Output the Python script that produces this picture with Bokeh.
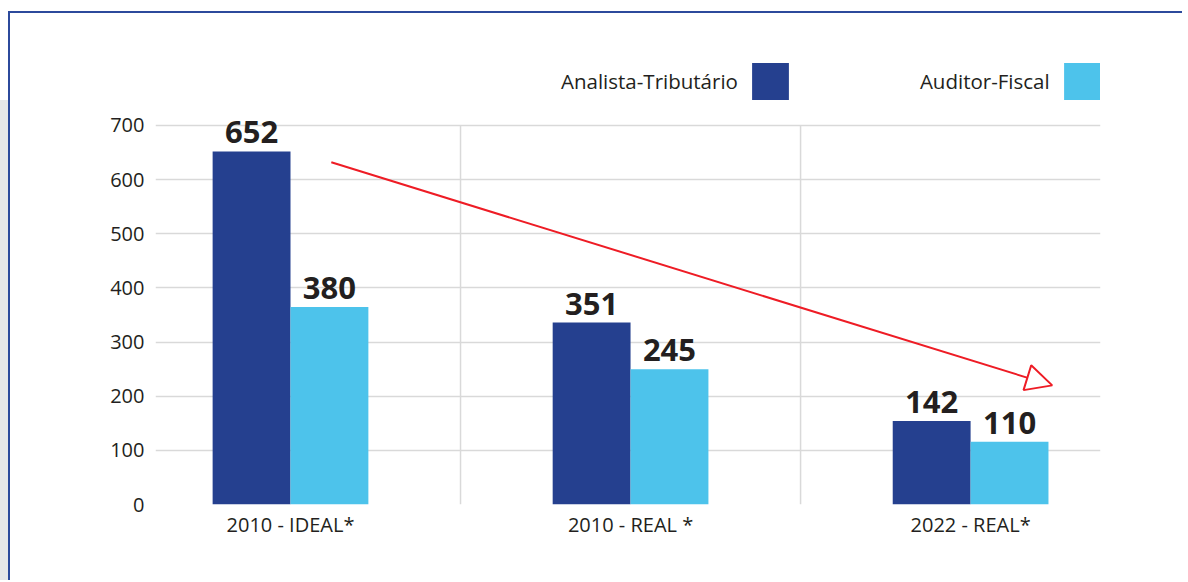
from bokeh.plotting import figure
from bokeh.models import (Range1d, FixedTicker, Legend, LegendItem, Arrow,
                          NormalHead, ColumnDataSource)
from bokeh.core.properties import value
from bokeh.embed import file_html
from bokeh.resources import INLINE

# ---- data ----
categories = ["2010 - IDEAL*", "2010 - REAL *", "2022 - REAL*"]
series_names = ["Analista-Tributário", "Auditor-Fiscal"]
analista = [652, 336, 154]          # bar heights as drawn
auditor = [365, 250, 116]
analista_labels = ["652", "351", "142"]   # printed value labels
auditor_labels = ["380", "245", "110"]
y_ticks = [0, 100, 200, 300, 400, 500, 600, 700]
trend_start = (0.12, 632)
trend_end = (2.24, 220)

DARK = "#25408f"
LIGHT = "#4dc3eb"
TEXT = "#231f20"
GRID = "#d9d9d9"
FONT = "Open Sans"

idx = list(range(len(categories)))
bar_w = 0.229
x_dark = [i - bar_w / 2 for i in idx]
x_light = [i + bar_w / 2 for i in idx]

p = figure(width=1174, height=569,
           x_range=Range1d(-0.397, 2.382), y_range=Range1d(0, 849.6),
           output_backend="svg", toolbar_location=None,
           min_border_left=145, min_border_right=84,
           min_border_top=31, min_border_bottom=78)
p.outline_line_color = None
p.background_fill_color = "white"
p.border_fill_color = "white"
p.styles = {"border-top": "2px solid #2c4a9c",
            "border-left": "2px solid #2c4a9c",
            "margin-top": "11px", "margin-left": "8px",
            "box-shadow": "-52.5px 44.5px 0 -44.5px #e6e7e9"}

# grid
p.xgrid.visible = False
p.ygrid.ticker = FixedTicker(ticks=y_ticks)
p.ygrid.grid_line_color = GRID
p.ygrid.grid_line_width = 1.5

# vertical separators between categories, from 0 up to the top tick
mids = [(a + b) / 2 for a, b in zip(idx[:-1], idx[1:])]
p.segment(x0=mids, x1=mids, y0=[y_ticks[0]] * len(mids),
          y1=[y_ticks[-1]] * len(mids), line_color=GRID, line_width=1.5)

# bars
src_d = ColumnDataSource(dict(x=x_dark, top=analista, lab=analista_labels))
src_l = ColumnDataSource(dict(x=x_light, top=auditor, lab=auditor_labels))
r_dark = p.vbar(x="x", top="top", width=bar_w, bottom=0, source=src_d,
                fill_color=DARK, line_color=None)
r_light = p.vbar(x="x", top="top", width=bar_w, bottom=0, source=src_l,
                 fill_color=LIGHT, line_color=None)

for src in (src_d, src_l):
    p.text(x="x", y="top", text="lab", source=src, text_align="center",
           text_baseline="alphabetic", y_offset=-19,
           text_font=value(FONT), text_font_style="bold",
           text_font_size="31px", text_color=TEXT)

# trend arrow
p.add_layout(Arrow(x_start=trend_start[0], y_start=trend_start[1],
                   x_end=trend_end[0], y_end=trend_end[1],
                   line_color="#ee1c25", line_width=2,
                   end=NormalHead(size=26, fill_color="white",
                                  line_color="#ee1c25", line_width=2)))

# axes
p.yaxis.ticker = FixedTicker(ticks=y_ticks)
p.xaxis.ticker = FixedTicker(ticks=idx)
p.xaxis.major_label_overrides = {i: c for i, c in zip(idx, categories)}
for ax in (p.xaxis, p.yaxis):
    ax.axis_line_color = None
    ax.major_tick_line_color = None
    ax.minor_tick_line_color = None
    ax.major_label_text_font = FONT
    ax.major_label_text_font_size = "20px"
    ax.major_label_text_color = TEXT
p.yaxis.major_label_standoff = 5
p.xaxis.major_label_standoff = 0

# legend: text to the left of each square
legend = Legend(items=[
    LegendItem(label=series_names[0], renderers=[]),
    LegendItem(label="", renderers=[r_dark]),
    LegendItem(label=series_names[1], renderers=[]),
    LegendItem(label="", renderers=[r_light]),
], orientation="horizontal", location=(324, 400),
    glyph_width=46, glyph_height=46, label_standoff=36, spacing=9,
    padding=0, margin=0, label_width=0,
    border_line_color=None, background_fill_alpha=0,
    label_text_font=FONT, label_text_font_size="20.5px",
    label_text_color=TEXT)
p.add_layout(legend)

open("out.html", "w").write(file_html(p, INLINE))
